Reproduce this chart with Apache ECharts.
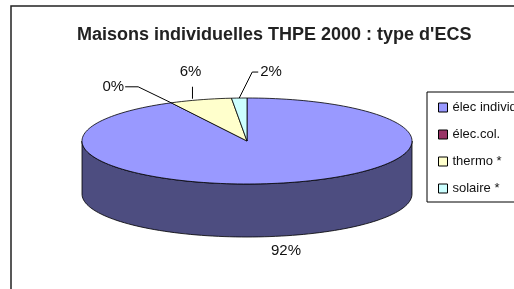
<!DOCTYPE html>
<html>
<head>
<meta charset="utf-8">
<script src="https://cdn.jsdelivr.net/npm/echarts@6/dist/echarts.min.js"></script>
<style>
html, body { margin: 0; padding: 0; background: #fff; }
#main { width: 514px; height: 289px; }
</style>
</head>
<body>
<div id="main"></div>
<script>
// données
var categories = ['élec individuel', 'élec.col.', 'thermo *', 'solaire *']
var values = [92.4, 0, 6.1, 1.5]

// styles
var colors = ['#9999FF', '#993366', '#FFFFCC', '#CCFFFF']
var sideColors = ['#4D4D80', '#4D1A33', '#808066', '#668080']
var pie = { cx: 247, cy: 141, rx: 165, ry: 43, depth: 53 }
var labelCfg = [
  { dx: 0, dy: 15, align: 'center', leader: 'none', bottom: true },
  { dx: -47, dy: -16, align: 'right', leader: 'left' },
  { dx: -10, dy: -28, align: 'center', leader: 'vertical' },
  { dx: 21, dy: -26, align: 'left', leader: 'right' }
]
var font = '"Liberation Sans", Arial, sans-serif'

var total = values.reduce(function (a, b) { return a + b }, 0)
var starts = []
var acc = 0
values.forEach(function (v) { starts.push(acc / total * 360); acc += v })

function pt (phi, dy) {
  var r = phi * Math.PI / 180
  return [pie.cx + pie.rx * Math.sin(r), pie.cy - pie.ry * Math.cos(r) + (dy || 0)]
}
function arc (a, b, dy) {
  var pts = []
  var n = Math.max(2, Math.ceil(Math.abs(b - a) / 2))
  for (var i = 0; i <= n; i++) pts.push(pt(a + (b - a) * i / n, dy))
  return pts
}

function renderSlice (params, api) {
  var i = params.seriesIndex
  var v = api.value(0)
  var a = starts[i]
  var b = a + v / total * 360
  var children = []
  // paroi avant
  var fa = Math.max(a, 90)
  var fb = Math.min(b, 270)
  if (fb > fa) {
    children.push({
      type: 'polygon',
      shape: { points: arc(fa, fb, 0).concat(arc(fb, fa, pie.depth)) },
      style: { fill: sideColors[i], stroke: '#000', lineWidth: 0.8 }
    })
  }
  // dessus
  if (b - a > 0.01) {
    children.push({
      type: 'polygon',
      shape: { points: [[pie.cx, pie.cy]].concat(arc(a, b, 0)) },
      style: { fill: colors[i], stroke: '#000', lineWidth: 0.8 }
    })
  }
  // étiquette
  var c = labelCfg[i]
  var anchor = pt((a + b) / 2, c.bottom ? pie.depth : 0)
  var lx = anchor[0] + c.dx
  var ly = anchor[1] + c.dy
  children.push({
    type: 'text',
    style: {
      text: Math.round(v) + '%', x: lx, y: ly, align: c.align, verticalAlign: 'middle',
      font: '15px ' + font, fill: '#111'
    }
  })
  var line = null
  if (c.leader === 'left') line = [anchor, [lx + 14, ly], [lx + 1, ly]]
  if (c.leader === 'right') line = [anchor, [lx - 8, ly], [lx - 2, ly]]
  if (c.leader === 'vertical') line = [[lx + 2, anchor[1] - 1], [lx + 2, ly + 15]]
  if (line) {
    children.push({
      type: 'polyline',
      shape: { points: line },
      style: { stroke: '#000', lineWidth: 1, fill: null }
    })
  }
  return { type: 'group', children: children }
}

var chart = echarts.init(document.getElementById('main'))
chart.setOption({
  animation: false,
  color: colors,
  title: {
    text: 'Maisons individuelles THPE 2000 : type d\'ECS',
    left: 72,
    top: 21,
    textStyle: { fontFamily: font, fontSize: 18, fontWeight: 'bold', color: '#222' }
  },
  legend: {
    orient: 'vertical',
    left: 433,
    top: 96,
    itemWidth: 9,
    itemHeight: 9,
    itemGap: 14,
    icon: 'rect',
    itemStyle: { borderColor: '#000', borderWidth: 1 },
    textStyle: { fontFamily: font, fontSize: 13, color: '#111' },
    data: categories
  },
  graphic: [
    { type: 'rect', shape: { x: 11, y: 6, width: 700, height: 500 }, style: { fill: null, stroke: '#222', lineWidth: 1.5 }, z: -1 },
    { type: 'rect', shape: { x: 427, y: 92, width: 300, height: 110 }, style: { fill: '#fff', stroke: '#000', lineWidth: 1 }, z: -1 }
  ],
  series: categories.map(function (name, i) {
    return {
      type: 'custom',
      name: name,
      coordinateSystem: 'none',
      itemStyle: { color: colors[i] },
      renderItem: renderSlice,
      data: [[values[i]]]
    }
  })
})
</script>
</body>
</html>
